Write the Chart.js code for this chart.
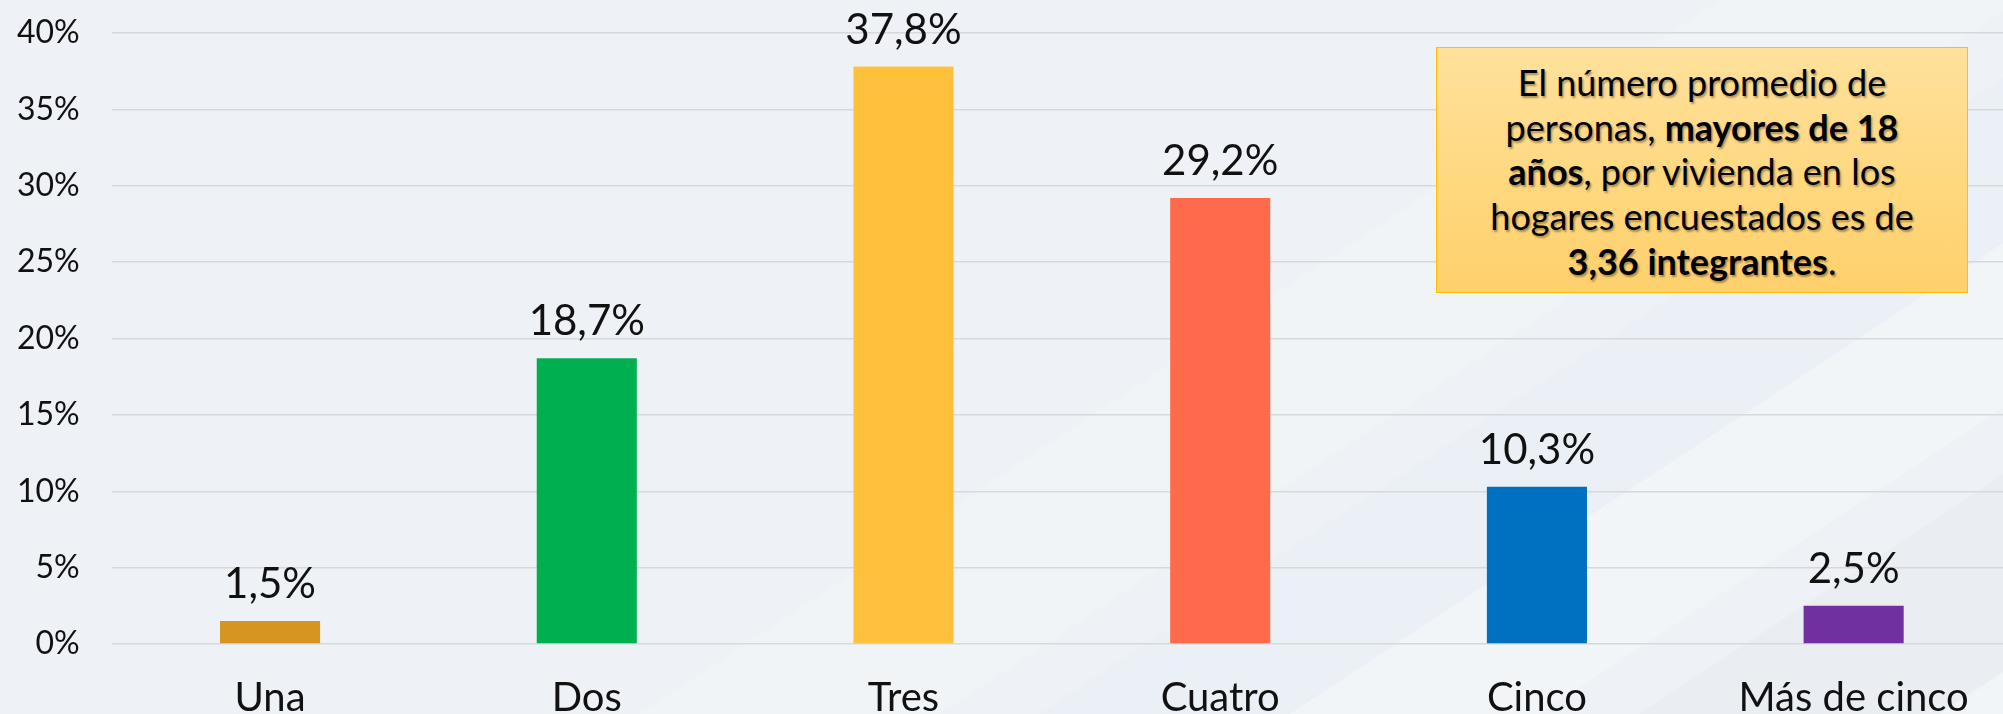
<!DOCTYPE html>
<html lang="es">
<head>
<meta charset="utf-8">
<script src="https://cdn.jsdelivr.net/npm/chart.js@4.4.1/dist/chart.umd.min.js"></script>
<style>
  html, body { margin: 0; padding: 0; overflow: hidden; background: #eef2f6; }
  #wrap { position: relative; width: 2003px; height: 714px; overflow: hidden; }
  canvas { position: absolute; left: 0; top: 0; }
  .nota {
    position: absolute; left: 1436px; top: 47px; width: 532px; height: 246px;
    box-sizing: border-box; border: 1.5px solid #ffc000;
    background: linear-gradient(180deg, #ffe19c 0%, #ffd87f 55%, #ffd06c 100%);
    font-family: Lato, "Open Sans", sans-serif; font-size: 36px; line-height: 44.7px;
    color: #000; text-align: center; padding-top: 12px;
    text-shadow: 1.5px 1.5px 2px rgba(0,0,0,0.35);
  }
  .nota b { font-weight: 700; }
</style>
</head>
<body>
<div id="wrap">
  <canvas id="chart" width="2012" height="740"></canvas>
  <div class="nota">El número promedio de<br>personas, <b>mayores de 18</b><br><b>años</b>, por vivienda en los<br>hogares encuestados es de<br><b>3,36 integrantes</b>.</div>
</div>
<script>
// datos
const categories = ['Una', 'Dos', 'Tres', 'Cuatro', 'Cinco', 'Más de cinco'];
const shares = [1.5, 18.7, 37.8, 29.2, 10.3, 2.5];
const barColors = ['#d69520', '#00b050', '#ffc03c', '#ff6a4a', '#0070c0', '#7030a0'];
const yMax = 40;
const yStep = 5;

const fontFam = 'Lato, "Open Sans", sans-serif';

function pct(v) {
    return v.toFixed(1).replace('.', ',') + '%';
}

// fondo gris claro con facetas diagonales muy suaves
const fondo = {
    id: 'fondo',
    beforeDraw(chart) {
        const c = chart.ctx;
        const h = chart.height;
        c.save();
        c.fillStyle = '#eef2f6';
        c.fillRect(0, 0, chart.width, h);
        const k = 0.66; // pendiente de las bandas
        const bandas = [
            [600, 900, 'rgba(255,255,255,0.18)'],
            [1000, 1250, 'rgba(225,230,240,0.22)'],
            [1250, 1500, 'rgba(255,255,255,0.25)'],
            [1600, 1900, 'rgba(225,229,238,0.28)'],
            [1900, 2150, 'rgba(255,255,255,0.22)'],
            [2300, 2700, 'rgba(222,226,236,0.35)']
        ];
        bandas.forEach(([a, b, col]) => {
            c.fillStyle = col;
            c.beginPath();
            c.moveTo(a, h);
            c.lineTo(a + h / k, 0);
            c.lineTo(b + h / k, 0);
            c.lineTo(b, h);
            c.closePath();
            c.fill();
        });
        c.restore();
    }
};

// etiquetas de valor encima de cada barra
const etiquetas = {
    id: 'etiquetas',
    afterDatasetsDraw(chart) {
        const c = chart.ctx;
        const meta = chart.getDatasetMeta(0);
        c.save();
        c.font = '42px ' + fontFam;
        c.fillStyle = '#111';
        c.textAlign = 'center';
        c.textBaseline = 'alphabetic';
        meta.data.forEach((bar, i) => {
            c.fillText(pct(shares[i]), bar.x, bar.y - 23);
        });
        c.restore();
    }
};

new Chart(document.getElementById('chart'), {
    type: 'bar',
    data: {
        labels: categories,
        datasets: [{
            data: shares,
            backgroundColor: barColors,
            borderWidth: 0,
            categoryPercentage: 0.316,
            barPercentage: 1
        }]
    },
    options: {
        responsive: false,
        animation: false,
        layout: { padding: { top: 33, left: 0, right: 0, bottom: 0 } },
        plugins: {
            legend: { display: false },
            tooltip: { enabled: false }
        },
        scales: {
            x: {
                grid: { display: false, drawTicks: false },
                border: { display: false },
                ticks: {
                    color: '#111',
                    padding: 30,
                    font: { family: fontFam, size: 40 }
                },
                afterFit(scale) { scale.height = 96; }
            },
            y: {
                min: 0,
                max: yMax,
                grid: { color: '#d7d8dc', lineWidth: 1.5, drawTicks: false },
                border: { display: false },
                ticks: {
                    stepSize: yStep,
                    color: '#111',
                    padding: 32,
                    font: { family: fontFam, size: 32 },
                    callback: v => v + '%'
                },
                afterFit(scale) {
                    scale.width = 111.7;
                    scale.paddingTop = 0;
                    scale.paddingBottom = 0;
                }
            }
        }
    },
    plugins: [fondo, etiquetas]
});
</script>
</body>
</html>
